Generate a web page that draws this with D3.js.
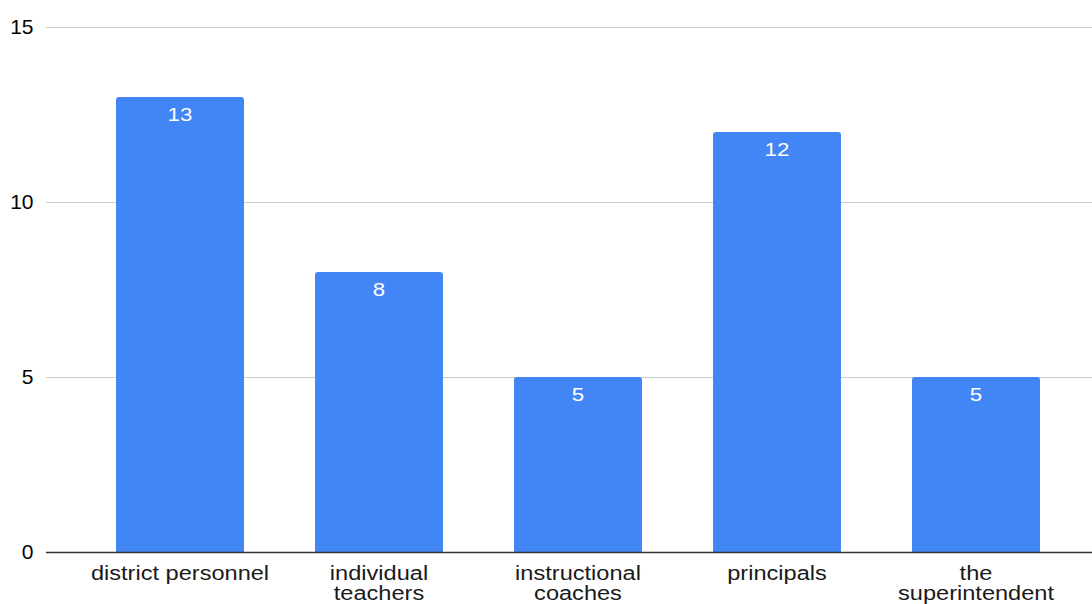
<!DOCTYPE html>
<html>
<head>
<meta charset="utf-8">
<script src="https://cdn.jsdelivr.net/npm/d3@7"></script>
<style>
  html, body { margin: 0; padding: 0; background: #fff; }
  svg { display: block; font-family: "Liberation Sans", Arial, sans-serif; }
</style>
</head>
<body>
<svg id="chart" width="1092" height="604"></svg>
<script>
// Respondent groups and counts
const categories = [
  ["district personnel"],
  ["individual", "teachers"],
  ["instructional", "coaches"],
  ["principals"],
  ["the", "superintendent"]
];
const values = [13, 8, 5, 12, 5];
const yTicks = [0, 5, 10, 15];

const W = 1092, H = 604;
const svg = d3.select("#chart");

const x = d3.scaleBand()
  .domain(d3.range(categories.length))
  .range([80.5, 1075.5])
  .paddingInner(0.357)
  .paddingOuter(0.1785);

const y = d3.scaleLinear().domain([0, 15]).range([552, 27]);

const gridLeft = 46, gridRight = W;
const stretch = 1.21;

// Horizontal gridlines
svg.append("g").selectAll("line")
  .data(yTicks.filter(d => d > 0))
  .join("line")
  .attr("x1", gridLeft).attr("x2", gridRight)
  .attr("y1", d => Math.round(y(d)) + 0.5).attr("y2", d => Math.round(y(d)) + 0.5)
  .attr("stroke", "#cccccc").attr("stroke-width", 1.2);

// Y tick labels
svg.append("g").selectAll("text")
  .data(yTicks)
  .join("text")
  .attr("x", 33.5)
  .attr("y", d => y(d))
  .attr("dy", "0.35em")
  .attr("text-anchor", "end")
  .attr("font-size", 21)
  .attr("fill", "#000")
  .text(d => d);

// Bars with rounded top corners
const r = 3;
function barPath(i, v) {
  const x0 = x(i), x1 = x(i) + x.bandwidth();
  const yt = y(v), yb = y(0);
  return `M${x0},${yb}V${yt + r}Q${x0},${yt} ${x0 + r},${yt}H${x1 - r}Q${x1},${yt} ${x1},${yt + r}V${yb}Z`;
}
svg.append("g").selectAll("path")
  .data(values)
  .join("path")
  .attr("d", (v, i) => barPath(i, v))
  .attr("fill", "#4285f4");

// Value labels inside the bars
svg.append("g").selectAll("g")
  .data(values)
  .join("g")
  .attr("transform", (v, i) => `translate(${x(i) + x.bandwidth() / 2},${y(v) + 24}) scale(${stretch},1)`)
  .append("text")
  .attr("text-anchor", "middle")
  .attr("font-size", 18.5)
  .attr("fill", "#ffffff")
  .text(v => v);

// Baseline
svg.append("line")
  .attr("x1", gridLeft).attr("x2", gridRight)
  .attr("y1", y(0) + 0.5).attr("y2", y(0) + 0.5)
  .attr("stroke", "#333333").attr("stroke-width", 1.4);

// Category labels
const cat = svg.append("g").selectAll("g")
  .data(categories)
  .join("g")
  .attr("transform", (c, i) => `translate(${x(i) + x.bandwidth() / 2},0) scale(${stretch},1)`);
cat.each(function(lines) {
  const g = d3.select(this);
  lines.forEach((t, k) => {
    g.append("text")
      .attr("x", 0)
      .attr("y", 580 + k * 20.5)
      .attr("text-anchor", "middle")
      .attr("font-size", 19.5)
      .attr("fill", "#1a1a1a")
      .text(t);
  });
});
</script>
</body>
</html>
